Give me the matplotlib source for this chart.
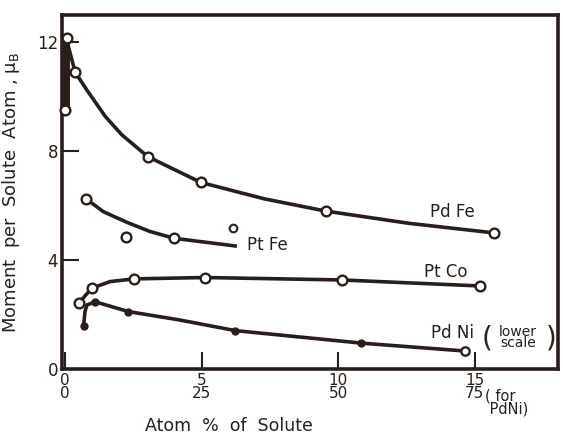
import matplotlib
matplotlib.use('Agg')
import matplotlib.pyplot as plt

plt.rcParams['font.family'] = ['DejaVu Sans']
ink = '#2a1e1a'

# Pd Fe (open circles) and the drawn curve through them
pdfe_x = [0.06, 0.37, 0.0, 3.03, 4.98, 9.55, 15.7]
pdfe_y = [12.15, 10.9, 9.5, 7.8, 6.85, 5.8, 5.0]
pdfe_cx = [0.12, 0.37, 0.79, 1.47, 2.08, 3.03, 4.98, 7.3, 9.55, 12.6, 15.7]
pdfe_cy = [11.85, 10.9, 10.26, 9.28, 8.6, 7.8, 6.85, 6.25, 5.8, 5.35, 5.0]

# Pt Fe
ptfe_x = [0.77, 2.22, 4.0]
ptfe_y = [6.25, 4.83, 4.8]
ptfe_cx = [0.77, 1.4, 2.26, 3.11, 4.0, 6.23]
ptfe_cy = [6.25, 5.78, 5.39, 5.05, 4.8, 4.52]
ptfe_extra_x = [6.17]
ptfe_extra_y = [5.17]

# Pt Co
ptco_x = [0.52, 0.98, 2.53, 5.13, 10.15, 15.2]
ptco_y = [2.44, 2.97, 3.31, 3.36, 3.27, 3.05]
ptco_cx = [0.52, 0.98, 1.65, 2.53, 5.13, 10.15, 15.2]
ptco_cy = [2.44, 2.97, 3.21, 3.31, 3.36, 3.27, 3.05]

# Pd Ni (lower scale, atom %)
pdni_x = [3.4, 5.5, 11.6, 31.2, 54.3]
pdni_y = [1.59, 2.47, 2.11, 1.41, 0.95]
pdni_last_x = [73.3]
pdni_last_y = [0.66]
pdni_cx = [3.4, 3.65, 4.0, 5.5, 11.6, 21.0, 31.2, 54.3, 73.3]
pdni_cy = [1.59, 2.11, 2.35, 2.47, 2.11, 1.8, 1.41, 0.95, 0.66]

upper_ticks = [0, 5, 10, 15]
lower_ticks = [0, 25, 50, 75]
y_ticks = [0, 4, 8, 12]

fig = plt.figure(figsize=(5.63, 4.37), dpi=100)
ax = fig.add_axes([0.1107, 0.1556, 0.880, 0.810])

ax.plot(pdfe_cx, pdfe_cy, color=ink, lw=2.6, zorder=2)
ax.plot([0.05, 0.05], [9.5, 12.0], color=ink, lw=5, zorder=2)
ax.plot(pdfe_x, pdfe_y, 'o', ms=7, mfc='white', mec=ink, mew=1.7, zorder=3, clip_on=False)

ax.plot(ptfe_cx, ptfe_cy, color=ink, lw=2.6, zorder=2)
ax.plot(ptfe_x, ptfe_y, 'o', ms=7, mfc='white', mec=ink, mew=1.7, zorder=3)
ax.plot(ptfe_extra_x, ptfe_extra_y, 'o', ms=5.5, mfc='white', mec=ink, mew=1.5, zorder=3)

ax.plot(ptco_cx, ptco_cy, color=ink, lw=2.6, zorder=2)
ax.plot(ptco_x, ptco_y, 'o', ms=7, mfc='white', mec=ink, mew=1.7, zorder=3)

pdni_scale = [v / 5 for v in pdni_cx]
ax.plot(pdni_scale, pdni_cy, color=ink, lw=2.6, zorder=2)
ax.plot([v / 5 for v in pdni_x], pdni_y, 'o', ms=5, color=ink, zorder=3)
ax.plot([v / 5 for v in pdni_last_x], pdni_last_y, 'o', ms=6, mfc='white', mec=ink, mew=1.7, zorder=3)

ax.set_xlim(-0.1, 18.05)
ax.set_ylim(0, 13.0)

for s in ax.spines.values():
    s.set_linewidth(2.6)
    s.set_color(ink)

ax.set_yticks(y_ticks)
ax.set_yticklabels([str(v) for v in y_ticks], fontsize=12, color=ink)
ax.set_xticks(upper_ticks)
ax.set_xticklabels(['%d\n%d' % (a, b) for a, b in zip(upper_ticks, lower_ticks)],
                   fontsize=11, color=ink, linespacing=0.85)
ax.tick_params(direction='in', length=12, width=1.5, color=ink, pad=3)

ax.annotate('( for\n PdNi)', xy=(15.4, 0), xycoords=('data', 'axes fraction'),
            xytext=(0, -14), textcoords='offset points', ha='left', va='top',
            fontsize=10.5, color=ink, linespacing=0.85)

ax.set_ylabel('Moment  per  Solute  Atom , $\\mathregular{\\mu_B}$', fontsize=13,
              color=ink)
ax.yaxis.set_label_coords(-0.081, 0.5)
ax.annotate('Atom  %  of  Solute', xy=(6.0, 0), xycoords=('data', 'axes fraction'),
            xytext=(0, -41), textcoords='offset points', ha='center', va='center',
            fontsize=12.5, color=ink)

ax.text(14.2, 5.77, 'Pd Fe', fontsize=12, color=ink, ha='center', va='center')
ax.text(7.4, 4.56, 'Pt Fe', fontsize=12, color=ink, ha='center', va='center')
ax.text(13.96, 3.57, 'Pt Co', fontsize=12, color=ink, ha='center', va='center')
ax.text(14.18, 1.32, 'Pd Ni', fontsize=12, color=ink, ha='center', va='center')
ax.text(16.6, 1.16, 'lower\nscale', fontsize=10, color=ink, ha='center', va='center',
        linespacing=0.8)
ax.text(15.45, 1.12, '(', fontsize=20, color=ink, ha='center', va='center')
ax.text(17.8, 1.12, ')', fontsize=20, color=ink, ha='center', va='center')

fig.savefig('out.png', dpi=100)
